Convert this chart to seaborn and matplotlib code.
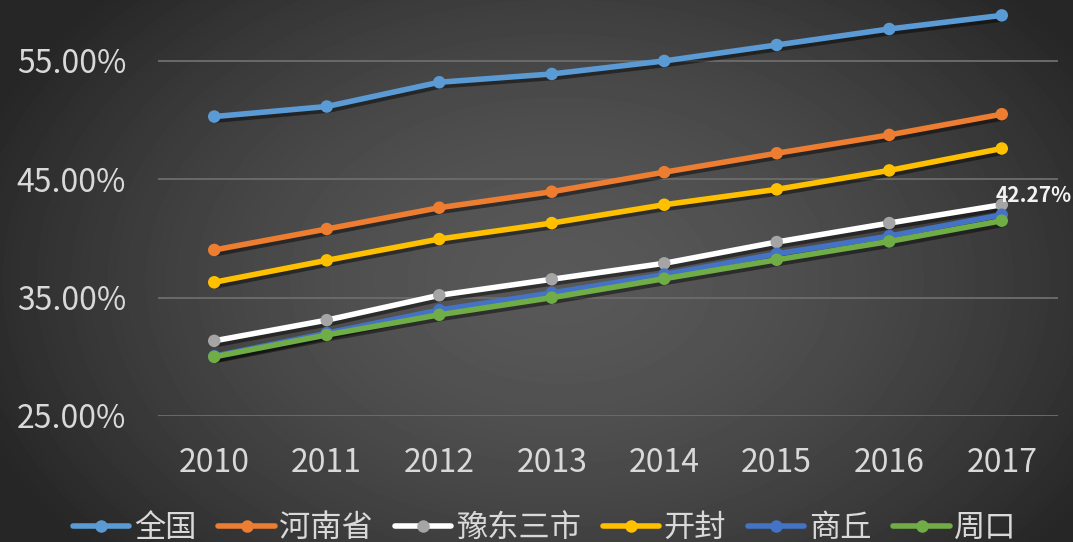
import numpy as np
import pandas as pd
import matplotlib
matplotlib.use("Agg")
import matplotlib.pyplot as plt
import matplotlib.patheffects as pe
from matplotlib.lines import Line2D
from matplotlib.font_manager import FontProperties
import seaborn as sns

# ---------------- data ----------------
years = [2010, 2011, 2012, 2013, 2014, 2015, 2016, 2017]
regions = ["全国", "河南省", "豫东三市", "开封", "商丘", "周口"]
quanguo = [0.5030, 0.5115, 0.5320, 0.5390, 0.5500, 0.5635, 0.5770, 0.5885]
henan = [0.3903, 0.4080, 0.4260, 0.4395, 0.4560, 0.4720, 0.4875, 0.5050]
yudong = [0.3135, 0.3310, 0.3520, 0.3655, 0.3790, 0.3970, 0.4130, 0.4285]
kaifeng = [0.3630, 0.3815, 0.3995, 0.4130, 0.4285, 0.4415, 0.4575, 0.4760]
shangqiu = [0.3005, 0.3200, 0.3395, 0.3540, 0.3695, 0.3870, 0.4020, 0.4200]
zhoukou = [0.3000, 0.3185, 0.3355, 0.3500, 0.3660, 0.3820, 0.3975, 0.4150]
series = [quanguo, henan, yudong, kaifeng, shangqiu, zhoukou]
line_colors = ["#5B9BD5", "#ED7D31", "#FFFFFF", "#FFC000", "#4472C4", "#70AD47"]
marker_colors = ["#5B9BD5", "#ED7D31", "#A5A5A5", "#FFC000", "#4472C4", "#70AD47"]
y_ticks = [0.25, 0.35, 0.45, 0.55]
label_text = "42.27%"
label_region = "豫东三市"

df = pd.DataFrame(
    [(r, y, v) for r, vals in zip(regions, series) for y, v in zip(years, vals)],
    columns=["地区", "年份", "城镇化率"],
)

# ---------------- figure ----------------
sns.set_theme(style="dark")
plt.rcParams["font.family"] = ["Noto Sans CJK SC", "DejaVu Sans"]
plt.rcParams["axes.unicode_minus"] = False

W, H = 1073, 542
fig = plt.figure(figsize=(W / 100, H / 100), dpi=100)

# radial gradient background
bg = fig.add_axes([0, 0, 1, 1], zorder=-10)
yy, xx = np.mgrid[0:H, 0:W]
r = np.sqrt(((xx - 560) / 620.0) ** 2 + ((yy - 280) / 420.0) ** 2)
r = np.clip(r, 0, 1)
val = 88 - (88 - 38) * r ** 1.6
bg.imshow(val, cmap="gray", vmin=0, vmax=255, aspect="auto", interpolation="bilinear")
bg.axis("off")

ax = fig.add_axes([158 / W, 1 - 416 / H, 900 / W, 416 / H])
ax.set_facecolor("none")

palette = dict(zip(regions, line_colors))
sns.lineplot(
    data=df, x="年份", y="城镇化率", hue="地区", hue_order=regions,
    palette=palette, marker="o", markersize=9, markeredgewidth=0,
    linewidth=4.0, ax=ax, legend=False,
)

shadow = [pe.SimpleLineShadow(offset=(1.5, -2.5), shadow_color="black", alpha=0.45),
          pe.Normal()]
for line, mc in zip(ax.lines, marker_colors):
    line.set_markerfacecolor(mc)
    line.set_markeredgecolor(mc)
    line.set_path_effects(shadow)
    line.set_solid_capstyle("round")

ax.set_xlim(2009.5, 2017.5)
ax.set_ylim(0.25, 0.6015)
ax.set_yticks(y_ticks)
ax.set_yticklabels([f"{t * 100:.2f}%" for t in y_ticks])
ax.set_xticks(years)
ax.set_xticklabels([str(y) for y in years])
ax.set_xlabel("")
ax.set_ylabel("")
for s in ax.spines.values():
    s.set_visible(False)
ax.grid(axis="y", color="#6A6A6A", linewidth=1.4)
ax.grid(axis="x", visible=False)
ax.tick_params(axis="y", length=0, pad=23, labelsize=23, labelcolor="#D9D9D9")
ax.tick_params(axis="x", length=0, pad=22, labelsize=23, labelcolor="#D9D9D9")

# data label
idx = regions.index(label_region)
ax.annotate(label_text, xy=(years[-1], series[idx][-1]), xytext=(23, 7),
            textcoords="offset points", ha="center", va="center",
            fontsize=15, fontweight="bold", color="#F2F2F2",
            family=["Noto Sans CJK SC", "DejaVu Sans"], annotation_clip=False)

# legend
handles = [Line2D([], [], color=lc, lw=4.0, marker="o", ms=9, mfc=mc, mec=mc, mew=0,
                  solid_capstyle="round")
           for lc, mc in zip(line_colors, marker_colors)]
leg = fig.legend(handles, regions, loc="center", bbox_to_anchor=(545 / W, 1 - 528 / H),
                 ncol=6, frameon=False, handlelength=1.8, handletextpad=0.15,
                 columnspacing=0.7,
                 prop=FontProperties(family=["Noto Sans CJK SC", "DejaVu Sans"], size=22.5))
for t in leg.get_texts():
    t.set_color("#D9D9D9")

fig.savefig("out.png", dpi=100)
